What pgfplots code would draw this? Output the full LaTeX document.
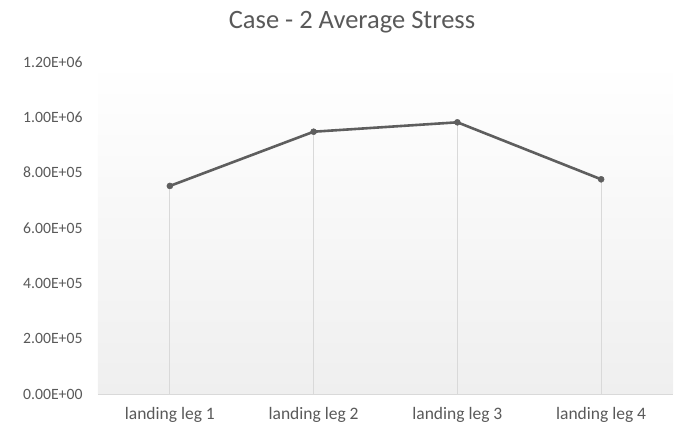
\documentclass[border=0pt]{standalone}
\usepackage{pgfplots}
\pgfplotsset{compat=1.18}
\usepackage{fontspec}
\setmainfont{Carlito}

\definecolor{txtgray}{HTML}{595959}
\definecolor{linegray}{HTML}{5E5E5E}
\definecolor{dropgray}{HTML}{D9D9D9}
\definecolor{bggray}{HTML}{EFEFEF}

\begin{document}
\begin{tikzpicture}
\useasboundingbox (-98bp,-36bp) rectangle (578bp,394bp);
\begin{axis}[
  at={(0,0)}, anchor=south west,
  scale only axis,
  width=575bp, height=332bp,
  xmin=-0.5, xmax=3.5,
  ymin=0, ymax=1200000,
  xtick={0,1,2,3},
  xticklabels={landing leg 1, landing leg 2, landing leg 3, landing leg 4},
  ytick={0,200000,400000,600000,800000,1000000,1200000},
  yticklabels={0.00E+00,2.00E+05,4.00E+05,6.00E+05,8.00E+05,1.00E+06,1.20E+06},
  scaled y ticks=false,
  major tick length=0pt,
  axis x line*=bottom,
  axis y line*=left,
  x axis line style={draw=dropgray, line width=0.8bp},
  y axis line style={draw=none},
  axis background/.style={shade, top color=white, bottom color=bggray},
  xticklabel style={font=\fontsize{17.5bp}{20bp}\selectfont, text=txtgray, yshift=-10bp},
  yticklabel style={font=\fontsize{15.7bp}{18bp}\selectfont, text=txtgray, xshift=-12bp},
  title={Case - 2 Average Stress},
  title style={at={(0.4417,1)}, anchor=center, yshift=34bp,
    font=\fontsize{26.5bp}{30bp}\selectfont, text=txtgray},
  clip=false,
]
% drop lines from each value down to the category axis
\addplot[ycomb, draw=dropgray, line width=0.8bp, mark=none] coordinates {
  (0,752000) (1,948000) (2,982000) (3,776000)
};
% average stress per landing leg
\addplot[draw=linegray, line width=2.6bp, mark=*, mark size=3bp,
  mark options={fill=linegray, draw=linegray, line width=0.5bp}] coordinates {
  (0,752000) (1,948000) (2,982000) (3,776000)
};
\end{axis}
\end{tikzpicture}
\end{document}
